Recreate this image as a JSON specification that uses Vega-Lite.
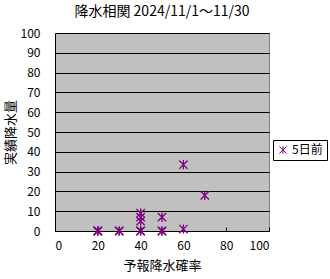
{
  "$schema": "https://vega.github.io/schema/vega-lite/v6.json",
  "autosize": {"type": "none"},
  "width": 214,
  "height": 198,
  "padding": {"left": 55, "top": 33, "right": 61, "bottom": 48},
  "background": "white",
  "title": {
    "text": "降水相関 2024/11/1～11/30",
    "font": "Noto Sans CJK JP",
    "fontSize": 14,
    "fontWeight": "normal",
    "color": "black",
    "anchor": "middle",
    "offset": 8
  },
  "config": {
    "view": {"fill": "#C0C0C0", "stroke": "#808080", "strokeWidth": 1},
    "font": "Noto Sans CJK JP"
  },
  "data": {
    "values": [
      {"確率": 20, "降水量": 0, "系列": "5日前"},
      {"確率": 20, "降水量": 0, "系列": "5日前"},
      {"確率": 20, "降水量": 0, "系列": "5日前"},
      {"確率": 30, "降水量": 0, "系列": "5日前"},
      {"確率": 30, "降水量": 0, "系列": "5日前"},
      {"確率": 40, "降水量": 0, "系列": "5日前"},
      {"確率": 40, "降水量": 0, "系列": "5日前"},
      {"確率": 40, "降水量": 5, "系列": "5日前"},
      {"確率": 40, "降水量": 7, "系列": "5日前"},
      {"確率": 40, "降水量": 9, "系列": "5日前"},
      {"確率": 50, "降水量": 0, "系列": "5日前"},
      {"確率": 50, "降水量": 0, "系列": "5日前"},
      {"確率": 50, "降水量": 7, "系列": "5日前"},
      {"確率": 60, "降水量": 1, "系列": "5日前"},
      {"確率": 60, "降水量": 33.5, "系列": "5日前"},
      {"確率": 70, "降水量": 18, "系列": "5日前"}
    ]
  },
  "mark": {
    "type": "point",
    "shape": "M-1,-1L1,1M-1,1L1,-1M0,-1.1L0,1.1",
    "filled": false,
    "size": 70,
    "strokeWidth": 1.3,
    "opacity": 1
  },
  "encoding": {
    "x": {
      "field": "確率",
      "type": "quantitative",
      "scale": {"domain": [0, 100], "nice": false},
      "axis": {
        "title": "予報降水確率",
        "values": [0, 20, 40, 60, 80, 100],
        "grid": false,
        "domainColor": "black",
        "domainWidth": 1,
        "tickColor": "black",
        "tickSize": -4,
        "labelPadding": 13,
        "labelFont": "Noto Sans CJK JP",
        "labelFontSize": 12,
        "labelColor": "black",
        "titleFont": "Noto Sans CJK JP",
        "titleFontSize": 13,
        "titleFontWeight": "normal",
        "titleColor": "black",
        "titlePadding": 8
      }
    },
    "y": {
      "field": "降水量",
      "type": "quantitative",
      "scale": {"domain": [0, 100], "nice": false},
      "axis": {
        "title": "実績降水量",
        "values": [0, 10, 20, 30, 40, 50, 60, 70, 80, 90, 100],
        "grid": true,
        "gridColor": "black",
        "gridOpacity": 1,
        "gridWidth": 1,
        "domainColor": "black",
        "ticks": false,
        "labelPadding": 15,
        "labelFont": "Noto Sans CJK JP",
        "labelFontSize": 12,
        "labelColor": "black",
        "titleFont": "Noto Sans CJK JP",
        "titleFontSize": 13,
        "titleFontWeight": "normal",
        "titleColor": "black",
        "titlePadding": 3
      }
    },
    "color": {
      "field": "系列",
      "type": "nominal",
      "scale": {"range": ["#800080"]},
      "legend": {
        "title": null,
        "orient": "none",
        "legendX": 218,
        "legendY": 107,
        "strokeColor": "black",
        "fillColor": "white",
        "padding": 4,
        "symbolType": "M-1,-1L1,1M-1,1L1,-1M0,-1.1L0,1.1",
        "symbolSize": 50,
        "symbolStrokeWidth": 1,
        "symbolFillColor": "transparent",
        "labelFont": "Noto Sans CJK JP",
        "labelFontSize": 12,
        "labelColor": "black",
        "labelOffset": 3
      }
    }
  }
}
